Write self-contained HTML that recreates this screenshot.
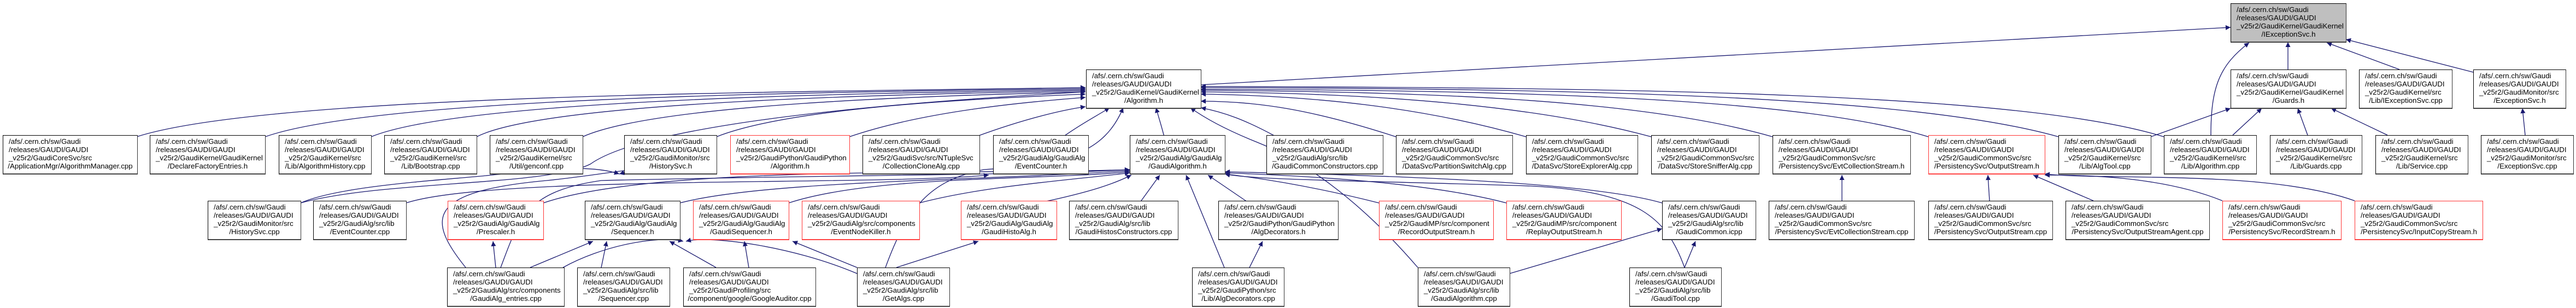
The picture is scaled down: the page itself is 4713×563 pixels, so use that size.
<!DOCTYPE html>
<html><head><meta charset="utf-8"><style>
html,body{margin:0;padding:0;background:#fff;}
body{width:4713px;height:563px;position:relative;overflow:hidden;font-family:"Liberation Sans",Arial,sans-serif;}
svg{position:absolute;left:0;top:0;}
.n{position:absolute;height:66px;box-sizing:content-box;border:1px solid #000;border-bottom:2px solid #444;border-right:1px solid #333;background:#fff;font-size:13.3px;line-height:15px;padding:3px 0 0 0;white-space:nowrap;}
.n div{padding-left:10px;}
.n .c{text-align:center;padding-left:0;}
.r{border-color:#f33;border-bottom:2px solid #f44;}
.g{background:#bfbfbf;}
</style></head><body>
<svg width="4713" height="563" viewBox="0 0 4713 563">
<defs><marker id="a" viewBox="0 0 10 10" refX="10" refY="5" markerWidth="11" markerHeight="9" markerUnits="userSpaceOnUse" orient="auto"><path d="M0,0 L10,5 L0,10 z" fill="#191970"/></marker></defs>
<g fill="none" stroke="#191970" stroke-width="1.3" marker-end="url(#a)">
<!-- to Algorithm.h -->
<path d="M250,250 C500,170 1500,168 1986,160"/>
<path d="M485,250 C700,175 1550,168 1986,162"/>
<path d="M679,250 C850,180 1600,170 1986,164"/>
<path d="M872,250 C1000,185 1650,172 1986,166"/>
<path d="M1066,250 C1200,190 1700,175 1986,168"/>
<path d="M1311,250 C1450,195 1800,180 1986,172"/>
<path d="M1554,250 C1700,200 1900,185 1986,178"/>
<path d="M1785,250 C1880,215 1950,200 1986,195"/>
<path d="M1945,250 C1980,225 2010,210 2030,197"/>
<path d="M2130,250 C2125,230 2120,215 2115,197"/>
<path d="M550,371 C700,330 1000,340 1080,300 C1150,250 1400,200 1986,168"/>
<path d="M1620,489 C1660,380 1700,330 1800,310 C1950,300 2020,280 2055,197"/>
<path d="M2594,489 C2500,380 2400,300 2300,260 C2250,240 2210,220 2178,197"/>
<path d="M2335,250 C2280,220 2240,205 2197,197"/>
<path d="M2554,250 C2400,200 2300,185 2197,185"/>
<path d="M2792,250 C2600,195 2400,175 2197,172"/>
<path d="M3021,250 C2800,190 2500,170 2197,168"/>
<path d="M3243,250 C3000,180 2600,168 2197,165"/>
<path d="M3528,250 C3300,180 2800,165 2197,163"/>
<path d="M3766,250 C3500,175 2900,162 2197,160"/>
<path d="M3959,250 C3700,170 3000,160 2197,158"/>
<!-- to IExceptionSvc.h -->
<path d="M2197,155 L4081,50"/>
<path d="M4186,127 L4186,77"/>
<path d="M4390,127 L4257,78"/>
<path d="M4525,132 L4292,72"/>
<path d="M4045,247 C4045,160 4060,120 4115,78"/>
<!-- to Guards.h -->
<path d="M3935,250 L4081,198"/>
<path d="M4085,247 L4138,198"/>
<path d="M4222,247 L4204,198"/>
<path d="M4368,247 L4265,198"/>
<path d="M4620,247 L4615,198"/>
<!-- to HistorySvc.h / EventCounter.h -->
<path d="M550,371 C620,340 800,330 900,320 C1000,310 1080,300 1133,318"/>
<path d="M852,489 C780,400 780,350 1000,330 C1100,320 1200,300 1133,318"/>
<path d="M743,371 C900,320 1600,340 1809,320"/>
<!-- to GaudiAlgorithm.h -->
<path d="M994,371 C1200,300 1800,320 2067,310"/>
<path d="M1244,371 C1400,330 1800,330 2067,312"/>
<path d="M1443,371 C1600,320 1900,330 2067,314"/>
<path d="M1682,371 C1800,340 1950,330 2067,316"/>
<path d="M1900,371 C2000,350 2040,335 2070,320"/>
<path d="M2085,371 L2122,320"/>
<path d="M2285,371 L2210,320"/>
<path d="M2523,371 C2400,340 2300,325 2241,318"/>
<path d="M2756,371 C2600,330 2350,320 2241,316"/>
<path d="M3041,371 C2900,330 2500,320 2241,314"/>
<path d="M3082,489 C3050,400 3000,350 2800,340 C2500,330 2300,330 2241,318"/>
<path d="M2240,489 L2170,320"/>
<path d="M916,489 C950,400 960,350 1100,330 C1500,320 1900,320 2067,310"/>
<!-- row4 to row3 -->
<path d="M907,489 L902,441"/>
<path d="M970,489 L1085,441"/>
<path d="M1030,489 C1100,450 1200,430 1250,441"/>
<path d="M1100,489 L1110,441"/>
<path d="M1310,489 L1225,441"/>
<path d="M1370,489 L1362,441"/>
<path d="M1568,500 C1450,450 1300,430 1255,441"/>
<path d="M1568,489 L1450,441"/>
<path d="M1640,489 L1790,441"/>
<path d="M2762,500 L3041,418"/>
<path d="M3082,489 L3102,441"/>
<path d="M2286,489 L2310,441"/>
<path d="M3370,367 L3370,320"/>
<path d="M3640,367 L3637,320"/>
<path d="M3830,367 L3720,320"/>
<path d="M4066,367 C3950,320 3800,320 3741,320"/>
<path d="M4308,367 C4150,310 3850,330 3741,318"/>
</g>
</svg>

<div class="n g" style="left:4081px;top:6px;width:210px"><div>/afs/.cern.ch/sw/Gaudi</div><div>/releases/GAUDI/GAUDI</div><div>_v25r2/GaudiKernel/GaudiKernel</div><div class="c">/IExceptionSvc.h</div></div>

<div class="n" style="left:1987px;top:127px;width:209px"><div>/afs/.cern.ch/sw/Gaudi</div><div>/releases/GAUDI/GAUDI</div><div>_v25r2/GaudiKernel/GaudiKernel</div><div class="c">/Algorithm.h</div></div>
<div class="n" style="left:4081px;top:127px;width:210px"><div>/afs/.cern.ch/sw/Gaudi</div><div>/releases/GAUDI/GAUDI</div><div>_v25r2/GaudiKernel/GaudiKernel</div><div class="c">/Guards.h</div></div>
<div class="n" style="left:4316px;top:127px;width:169px"><div>/afs/.cern.ch/sw/Gaudi</div><div>/releases/GAUDI/GAUDI</div><div>_v25r2/GaudiKernel/src</div><div class="c">/Lib/IExceptionSvc.cpp</div></div>
<div class="n" style="left:4525px;top:127px;width:168px"><div>/afs/.cern.ch/sw/Gaudi</div><div>/releases/GAUDI/GAUDI</div><div>_v25r2/GaudiMonitor/src</div><div class="c">/ExceptionSvc.h</div></div>

<div class="n" style="left:5px;top:247px;width:245px"><div>/afs/.cern.ch/sw/Gaudi</div><div>/releases/GAUDI/GAUDI</div><div>_v25r2/GaudiCoreSvc/src</div><div class="c">/ApplicationMgr/AlgorithmManager.cpp</div></div>
<div class="n" style="left:274px;top:247px;width:210px"><div>/afs/.cern.ch/sw/Gaudi</div><div>/releases/GAUDI/GAUDI</div><div>_v25r2/GaudiKernel/GaudiKernel</div><div class="c">/DeclareFactoryEntries.h</div></div>
<div class="n" style="left:510px;top:247px;width:168px"><div>/afs/.cern.ch/sw/Gaudi</div><div>/releases/GAUDI/GAUDI</div><div>_v25r2/GaudiKernel/src</div><div class="c">/Lib/AlgorithmHistory.cpp</div></div>
<div class="n" style="left:703px;top:247px;width:168px"><div>/afs/.cern.ch/sw/Gaudi</div><div>/releases/GAUDI/GAUDI</div><div>_v25r2/GaudiKernel/src</div><div class="c">/Lib/Bootstrap.cpp</div></div>
<div class="n" style="left:896px;top:247px;width:169px"><div>/afs/.cern.ch/sw/Gaudi</div><div>/releases/GAUDI/GAUDI</div><div>_v25r2/GaudiKernel/src</div><div class="c">/Util/genconf.cpp</div></div>
<div class="n" style="left:1142px;top:247px;width:168px"><div>/afs/.cern.ch/sw/Gaudi</div><div>/releases/GAUDI/GAUDI</div><div>_v25r2/GaudiMonitor/src</div><div class="c">/HistorySvc.h</div></div>
<div class="n r" style="left:1336px;top:247px;width:217px"><div>/afs/.cern.ch/sw/Gaudi</div><div>/releases/GAUDI/GAUDI</div><div>_v25r2/GaudiPython/GaudiPython</div><div class="c">/Algorithm.h</div></div>
<div class="n" style="left:1578px;top:247px;width:213px"><div>/afs/.cern.ch/sw/Gaudi</div><div>/releases/GAUDI/GAUDI</div><div>_v25r2/GaudiSvc/src/NTupleSvc</div><div class="c">/CollectionCloneAlg.cpp</div></div>
<div class="n" style="left:1817px;top:247px;width:173px"><div>/afs/.cern.ch/sw/Gaudi</div><div>/releases/GAUDI/GAUDI</div><div>_v25r2/GaudiAlg/GaudiAlg</div><div class="c">/EventCounter.h</div></div>
<div class="n" style="left:2067px;top:247px;width:173px"><div>/afs/.cern.ch/sw/Gaudi</div><div>/releases/GAUDI/GAUDI</div><div>_v25r2/GaudiAlg/GaudiAlg</div><div class="c">/GaudiAlgorithm.h</div></div>
<div class="n" style="left:2317px;top:247px;width:212px"><div>/afs/.cern.ch/sw/Gaudi</div><div>/releases/GAUDI/GAUDI</div><div>_v25r2/GaudiAlg/src/lib</div><div class="c">/GaudiCommonConstructors.cpp</div></div>
<div class="n" style="left:2554px;top:247px;width:212px"><div>/afs/.cern.ch/sw/Gaudi</div><div>/releases/GAUDI/GAUDI</div><div>_v25r2/GaudiCommonSvc/src</div><div class="c">/DataSvc/PartitionSwitchAlg.cpp</div></div>
<div class="n" style="left:2792px;top:247px;width:203px"><div>/afs/.cern.ch/sw/Gaudi</div><div>/releases/GAUDI/GAUDI</div><div>_v25r2/GaudiCommonSvc/src</div><div class="c">/DataSvc/StoreExplorerAlg.cpp</div></div>
<div class="n" style="left:3021px;top:247px;width:196px"><div>/afs/.cern.ch/sw/Gaudi</div><div>/releases/GAUDI/GAUDI</div><div>_v25r2/GaudiCommonSvc/src</div><div class="c">/DataSvc/StoreSnifferAlg.cpp</div></div>
<div class="n" style="left:3243px;top:247px;width:251px"><div>/afs/.cern.ch/sw/Gaudi</div><div>/releases/GAUDI/GAUDI</div><div>_v25r2/GaudiCommonSvc/src</div><div class="c">/PersistencySvc/EvtCollectionStream.h</div></div>
<div class="n r" style="left:3528px;top:247px;width:212px"><div>/afs/.cern.ch/sw/Gaudi</div><div>/releases/GAUDI/GAUDI</div><div>_v25r2/GaudiCommonSvc/src</div><div class="c">/PersistencySvc/OutputStream.h</div></div>
<div class="n" style="left:3766px;top:247px;width:168px"><div>/afs/.cern.ch/sw/Gaudi</div><div>/releases/GAUDI/GAUDI</div><div>_v25r2/GaudiKernel/src</div><div class="c">/Lib/AlgTool.cpp</div></div>
<div class="n" style="left:3959px;top:247px;width:168px"><div>/afs/.cern.ch/sw/Gaudi</div><div>/releases/GAUDI/GAUDI</div><div>_v25r2/GaudiKernel/src</div><div class="c">/Lib/Algorithm.cpp</div></div>
<div class="n" style="left:4153px;top:247px;width:167px"><div>/afs/.cern.ch/sw/Gaudi</div><div>/releases/GAUDI/GAUDI</div><div>_v25r2/GaudiKernel/src</div><div class="c">/Lib/Guards.cpp</div></div>
<div class="n" style="left:4346px;top:247px;width:168px"><div>/afs/.cern.ch/sw/Gaudi</div><div>/releases/GAUDI/GAUDI</div><div>_v25r2/GaudiKernel/src</div><div class="c">/Lib/Service.cpp</div></div>
<div class="n" style="left:4539px;top:247px;width:168px"><div>/afs/.cern.ch/sw/Gaudi</div><div>/releases/GAUDI/GAUDI</div><div>_v25r2/GaudiMonitor/src</div><div class="c">/ExceptionSvc.cpp</div></div>

<div class="n" style="left:380px;top:367px;width:169px"><div>/afs/.cern.ch/sw/Gaudi</div><div>/releases/GAUDI/GAUDI</div><div>_v25r2/GaudiMonitor/src</div><div class="c">/HistorySvc.cpp</div></div>
<div class="n" style="left:573px;top:367px;width:169px"><div>/afs/.cern.ch/sw/Gaudi</div><div>/releases/GAUDI/GAUDI</div><div>_v25r2/GaudiAlg/src/lib</div><div class="c">/EventCounter.cpp</div></div>
<div class="n r" style="left:819px;top:367px;width:174px"><div>/afs/.cern.ch/sw/Gaudi</div><div>/releases/GAUDI/GAUDI</div><div>_v25r2/GaudiAlg/GaudiAlg</div><div class="c">/Prescaler.h</div></div>
<div class="n" style="left:1070px;top:367px;width:173px"><div>/afs/.cern.ch/sw/Gaudi</div><div>/releases/GAUDI/GAUDI</div><div>_v25r2/GaudiAlg/GaudiAlg</div><div class="c">/Sequencer.h</div></div>
<div class="n r" style="left:1268px;top:367px;width:174px"><div>/afs/.cern.ch/sw/Gaudi</div><div>/releases/GAUDI/GAUDI</div><div>_v25r2/GaudiAlg/GaudiAlg</div><div class="c">/GaudiSequencer.h</div></div>
<div class="n r" style="left:1467px;top:367px;width:214px"><div>/afs/.cern.ch/sw/Gaudi</div><div>/releases/GAUDI/GAUDI</div><div>_v25r2/GaudiAlg/src/components</div><div class="c">/EventNodeKiller.h</div></div>
<div class="n r" style="left:1758px;top:367px;width:174px"><div>/afs/.cern.ch/sw/Gaudi</div><div>/releases/GAUDI/GAUDI</div><div>_v25r2/GaudiAlg/GaudiAlg</div><div class="c">/GaudiHistoAlg.h</div></div>
<div class="n" style="left:1956px;top:367px;width:198px"><div>/afs/.cern.ch/sw/Gaudi</div><div>/releases/GAUDI/GAUDI</div><div>_v25r2/GaudiAlg/src/lib</div><div class="c">/GaudiHistosConstructors.cpp</div></div>
<div class="n" style="left:2229px;top:367px;width:218px"><div>/afs/.cern.ch/sw/Gaudi</div><div>/releases/GAUDI/GAUDI</div><div>_v25r2/GaudiPython/GaudiPython</div><div class="c">/AlgDecorators.h</div></div>
<div class="n r" style="left:2523px;top:367px;width:208px"><div>/afs/.cern.ch/sw/Gaudi</div><div>/releases/GAUDI/GAUDI</div><div>_v25r2/GaudiMP/src/component</div><div class="c">/RecordOutputStream.h</div></div>
<div class="n r" style="left:2756px;top:367px;width:209px"><div>/afs/.cern.ch/sw/Gaudi</div><div>/releases/GAUDI/GAUDI</div><div>_v25r2/GaudiMP/src/component</div><div class="c">/ReplayOutputStream.h</div></div>
<div class="n" style="left:3041px;top:367px;width:170px"><div>/afs/.cern.ch/sw/Gaudi</div><div>/releases/GAUDI/GAUDI</div><div>_v25r2/GaudiAlg/src/lib</div><div class="c">/GaudiCommon.icpp</div></div>
<div class="n" style="left:3236px;top:367px;width:265px"><div>/afs/.cern.ch/sw/Gaudi</div><div>/releases/GAUDI/GAUDI</div><div>_v25r2/GaudiCommonSvc/src</div><div class="c">/PersistencySvc/EvtCollectionStream.cpp</div></div>
<div class="n" style="left:3528px;top:367px;width:226px"><div>/afs/.cern.ch/sw/Gaudi</div><div>/releases/GAUDI/GAUDI</div><div>_v25r2/GaudiCommonSvc/src</div><div class="c">/PersistencySvc/OutputStream.cpp</div></div>
<div class="n" style="left:3779px;top:367px;width:262px"><div>/afs/.cern.ch/sw/Gaudi</div><div>/releases/GAUDI/GAUDI</div><div>_v25r2/GaudiCommonSvc/src</div><div class="c">/PersistencySvc/OutputStreamAgent.cpp</div></div>
<div class="n r" style="left:4066px;top:367px;width:216px"><div>/afs/.cern.ch/sw/Gaudi</div><div>/releases/GAUDI/GAUDI</div><div>_v25r2/GaudiCommonSvc/src</div><div class="c">/PersistencySvc/RecordStream.h</div></div>
<div class="n r" style="left:4308px;top:367px;width:233px"><div>/afs/.cern.ch/sw/Gaudi</div><div>/releases/GAUDI/GAUDI</div><div>_v25r2/GaudiCommonSvc/src</div><div class="c">/PersistencySvc/InputCopyStream.h</div></div>

<div class="n" style="left:818px;top:489px;width:213px"><div>/afs/.cern.ch/sw/Gaudi</div><div>/releases/GAUDI/GAUDI</div><div>_v25r2/GaudiAlg/src/components</div><div class="c">/GaudiAlg_entries.cpp</div></div>
<div class="n" style="left:1056px;top:489px;width:168px"><div>/afs/.cern.ch/sw/Gaudi</div><div>/releases/GAUDI/GAUDI</div><div>_v25r2/GaudiAlg/src/lib</div><div class="c">/Sequencer.cpp</div></div>
<div class="n" style="left:1250px;top:489px;width:241px"><div>/afs/.cern.ch/sw/Gaudi</div><div>/releases/GAUDI/GAUDI</div><div>_v25r2/GaudiProfiling/src</div><div class="c">/component/google/GoogleAuditor.cpp</div></div>
<div class="n" style="left:1568px;top:489px;width:168px"><div>/afs/.cern.ch/sw/Gaudi</div><div>/releases/GAUDI/GAUDI</div><div>_v25r2/GaudiAlg/src/lib</div><div class="c">/GetAlgs.cpp</div></div>
<div class="n" style="left:2181px;top:489px;width:167px"><div>/afs/.cern.ch/sw/Gaudi</div><div>/releases/GAUDI/GAUDI</div><div>_v25r2/GaudiPython/src</div><div class="c">/Lib/AlgDecorators.cpp</div></div>
<div class="n" style="left:2594px;top:489px;width:167px"><div>/afs/.cern.ch/sw/Gaudi</div><div>/releases/GAUDI/GAUDI</div><div>_v25r2/GaudiAlg/src/lib</div><div class="c">/GaudiAlgorithm.cpp</div></div>
<div class="n" style="left:2981px;top:489px;width:167px"><div>/afs/.cern.ch/sw/Gaudi</div><div>/releases/GAUDI/GAUDI</div><div>_v25r2/GaudiAlg/src/lib</div><div class="c">/GaudiTool.cpp</div></div>
</body></html>
